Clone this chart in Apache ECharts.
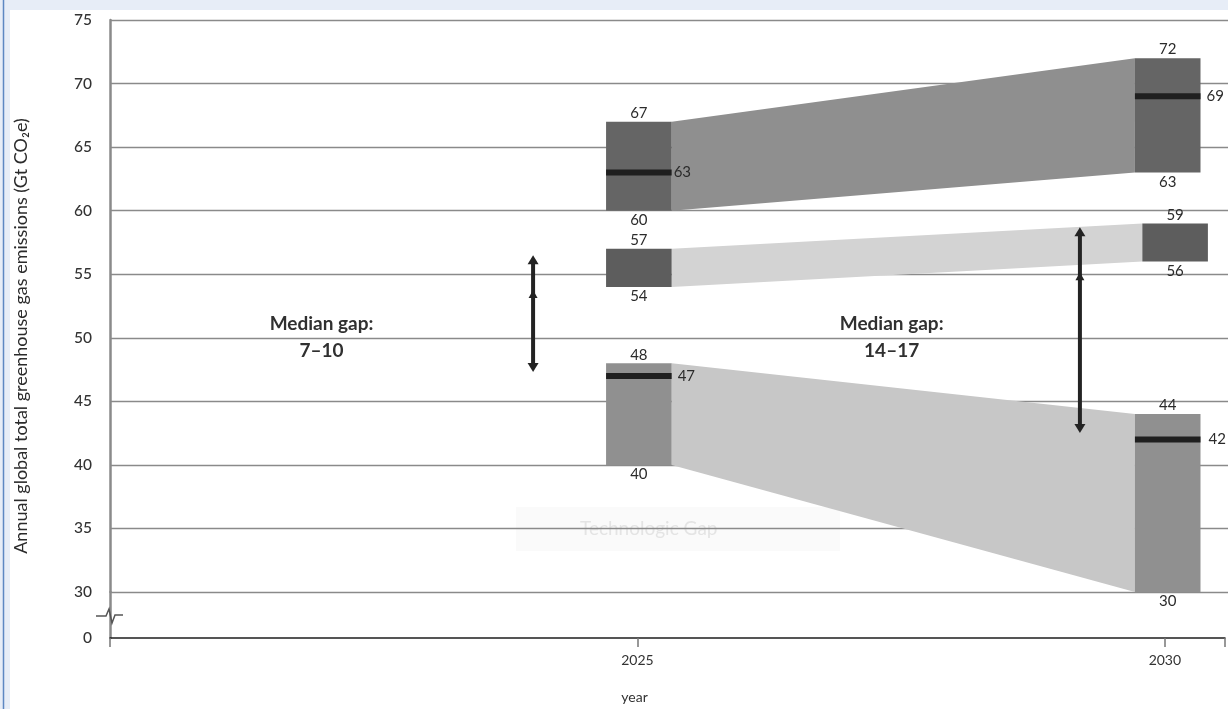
<!DOCTYPE html>
<html><head><meta charset="utf-8">
<script src="https://cdn.jsdelivr.net/npm/echarts@6/dist/echarts.min.js"></script>
<style>html,body{margin:0;padding:0;background:#fff}#chart{width:1228px;height:709px}</style>
</head><body><div id="chart"></div>
<script>
// ---- data ----
const years = [2025, 2030];
const upperLow = [60, 63];
const upperHigh = [67, 72];
const upperMedian = [63, 69];
const middleLow = [54, 56];
const middleHigh = [57, 59];
const lowerLow = [40, 30];
const lowerHigh = [48, 44];
const lowerMedian = [47, 42];
const gapLow = [47.3, 42.5];
const gapMid = [53.6, 55.0];
const gapHigh = [56.5, 58.7];
const gapLabels = ['Median gap:\n7–10', 'Median gap:\n14–17'];
const yAxisTitle = 'Annual global total greenhouse gas emissions (Gt CO₂e)';
const xAxisTitle = 'year';
const watermark = 'Technologic Gap';

// ---- styling ----
const FONT = 'Lato, "Liberation Sans", sans-serif';
const HW = 0.31;             // half box width in years
const X_MIN = 2020, X_MAX = 2030.57;
const txt = (s) => Object.assign({fill: '#2b2b2b', font: '15px ' + FONT}, s);

function boxSeries(low, high, median, fill, shifts, medGaps) {
  return {
    type: 'custom', xAxisIndex: 0, yAxisIndex: 0, z: 3, clip: false,
    data: years.map((y, i) => [y, low[i], high[i], median ? median[i] : 0]),
    encode: {x: 0, y: [1, 2]},
    renderItem(params, api) {
      const i = params.dataIndex;
      const x = api.value(0), lo = api.value(1), hi = api.value(2);
      const s = shifts[i];
      const tl = api.coord([x - HW + s, hi]);
      const br = api.coord([x + HW + s, lo]);
      const cx = (tl[0] + br[0]) / 2;
      const children = [
        {type: 'rect', shape: {x: tl[0], y: tl[1], width: br[0] - tl[0], height: br[1] - tl[1]}, style: {fill}},
        {type: 'text', style: txt({text: String(hi), x: cx, y: tl[1] - 1, align: 'center', verticalAlign: 'bottom'})},
        {type: 'text', style: txt({text: String(lo), x: cx, y: br[1] + 2, align: 'center', verticalAlign: 'top'})}
      ];
      if (median) {
        const med = api.value(3);
        const m = api.coord([x, med]);
        children.push({type: 'rect', shape: {x: tl[0], y: m[1] - 3, width: br[0] - tl[0], height: 6}, style: {fill: '#1f1f1f'}});
        children.push({type: 'text', style: txt({text: String(med), x: br[0] + medGaps[i], y: m[1], align: 'left', verticalAlign: 'middle'})});
      }
      return {type: 'group', children};
    }
  };
}

function bandSeries(low, high, fill, endShift) {
  return {
    type: 'custom', xAxisIndex: 0, yAxisIndex: 0, z: 2, clip: false,
    data: [[years[0], low[0], high[0], years[1], low[1], high[1]]],
    encode: {x: [0, 3], y: [1, 2, 4, 5]},
    renderItem(params, api) {
      const a = api.coord([api.value(0) + HW, api.value(2)]);
      const b = api.coord([api.value(3) - HW + endShift, api.value(5)]);
      const c = api.coord([api.value(3) - HW + endShift, api.value(4)]);
      const d = api.coord([api.value(0) + HW, api.value(1)]);
      return {type: 'polygon', shape: {points: [a, b, c, d]}, style: {fill}};
    }
  };
}

const arrowOffsets = [1.0, 0.83];
const labelOffsets = [3.0, 2.61];
const gapSeries = {
  type: 'custom', xAxisIndex: 0, yAxisIndex: 0, z: 6, clip: false,
  data: years.map((y, i) => [y, gapLow[i], gapMid[i], gapHigh[i]]),
  encode: {x: 0, y: [1, 3]},
  renderItem(params, api) {
    const i = params.dataIndex;
    const x = api.value(0) - arrowOffsets[i];
    const lo = api.coord([x, api.value(1)]);
    const mid = api.coord([x, api.value(2)]);
    const hi = api.coord([x, api.value(3)]);
    const cx = lo[0], col = '#232323', w = 5.5, h = 9;
    const lab = api.coord([api.value(0) - labelOffsets[i], 50]);
    return {type: 'group', children: [
      {type: 'line', shape: {x1: cx, y1: lo[1] - 4, x2: cx, y2: hi[1] + 4}, style: {stroke: col, lineWidth: 4}},
      {type: 'polygon', shape: {points: [[cx, hi[1]], [cx - w, hi[1] + h], [cx + w, hi[1] + h]]}, style: {fill: col}},
      {type: 'polygon', shape: {points: [[cx, lo[1]], [cx - w, lo[1] - h], [cx + w, lo[1] - h]]}, style: {fill: col}},
      {type: 'polygon', shape: {points: [[cx, mid[1] - 2], [cx - 4.5, mid[1] + 6], [cx + 4.5, mid[1] + 6]]}, style: {fill: col}},
      {type: 'text', style: {text: gapLabels[i], x: lab[0], y: lab[1], align: 'center', verticalAlign: 'middle',
        font: 'bold 19px ' + FONT, fill: '#303030', lineHeight: 27}}
    ]};
  }
};

const chart = echarts.init(document.getElementById('chart'));
chart.setOption({
  animation: false,
  backgroundColor: '#fff',
  grid: [
    {left: 110, right: 0, top: 20, bottom: 117},
    {left: 110, right: 0, top: 592, bottom: 71}
  ],
  xAxis: [
    {gridIndex: 0, type: 'value', min: X_MIN, max: X_MAX, show: false},
    {gridIndex: 1, type: 'value', min: X_MIN, max: X_MAX, interval: 5,
      axisLine: {lineStyle: {color: '#1e1e1e', width: 1.5}},
      axisTick: {length: 9, lineStyle: {color: '#777', width: 1.5}},
      axisLabel: {formatter: v => (v === 2025 || v === 2030) ? String(v) : '', margin: 15, fontSize: 14, color: '#333', fontFamily: FONT},
      splitLine: {show: false},
      name: xAxisTitle, nameLocation: 'middle', nameGap: 52,
      nameTextStyle: {fontSize: 14, color: '#333', fontFamily: FONT, padding: [0, 66, 0, 0]}}
  ],
  yAxis: [
    {gridIndex: 0, type: 'value', min: 30, max: 75, interval: 5,
      axisLine: {show: true, lineStyle: {color: '#8a8a8a', width: 2.5}},
      axisTick: {show: false},
      axisLabel: {fontSize: 15.5, color: '#333', margin: 18, fontFamily: FONT, fontWeight: 500},
      splitLine: {lineStyle: {color: '#8a8a8a', width: 1.4}},
      name: yAxisTitle, nameLocation: 'middle', nameRotate: 90, nameGap: 80,
      nameTextStyle: {fontSize: 18, color: '#2b2b2b', fontFamily: FONT, padding: [0, 60, 0, 0]}},
    {gridIndex: 1, type: 'value', min: 0, max: 30, interval: 30,
      axisLine: {show: true, lineStyle: {color: '#8a8a8a', width: 2.5}},
      axisTick: {show: false},
      axisLabel: {formatter: v => v === 0 ? '0' : '', fontSize: 15.5, color: '#333', margin: 18, fontFamily: FONT, fontWeight: 500},
      splitLine: {show: false}}
  ],
  graphic: [
    {type: 'rect', shape: {x: 0, y: 0, width: 1228, height: 10}, style: {fill: '#e7edf7'}, z: 10},
    {type: 'rect', shape: {x: 0, y: 0, width: 10, height: 709}, style: {fill: '#e7edf7'}, z: 10},
    {type: 'line', shape: {x1: 3.5, y1: 0, x2: 3.5, y2: 709}, style: {stroke: '#5e88c2', lineWidth: 1.5}, z: 11},
    {type: 'polyline', shape: {points: [[96, 616], [106, 616], [109, 609], [112, 623], [115, 615], [123, 615]]},
      style: {stroke: '#555', lineWidth: 1.5, fill: null}, z: 12},
    {type: 'rect', shape: {x: 516, y: 507, width: 324, height: 44}, style: {fill: 'rgba(235,235,235,0.25)'}, z: -1},
    {type: 'text', x: 580, y: 529, style: {text: watermark, font: '19px ' + FONT, fill: '#e4e4e4', verticalAlign: 'middle'}, z: -1}
  ],
  series: [
    bandSeries(upperLow, upperHigh, '#8f8f8f', 0),
    bandSeries(middleLow, middleHigh, '#d3d3d3', 0.07),
    bandSeries(lowerLow, lowerHigh, '#c7c7c7', 0),
    boxSeries(upperLow, upperHigh, upperMedian, '#656565', [0, 0], [2, 6]),
    boxSeries(middleLow, middleHigh, null, '#5d5d5d', [0, 0.07], [0, 0]),
    boxSeries(lowerLow, lowerHigh, lowerMedian, '#909090', [0, 0], [6, 8]),
    gapSeries
  ]
});
</script>
</body></html>
